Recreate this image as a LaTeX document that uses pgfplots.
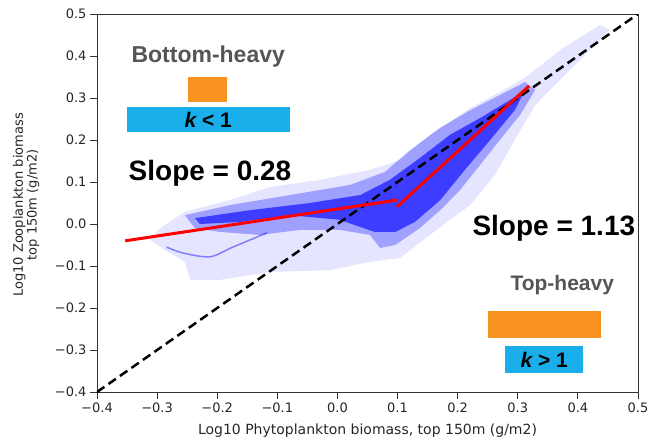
\documentclass[border=0pt]{standalone}
\usepackage{pgfplots}
\pgfplotsset{compat=1.18}
\usepackage{fontspec}
\setmainfont{DejaVu Sans}
\newfontfamily\arial{Liberation Sans}
\definecolor{orng}{HTML}{F7931E}
\definecolor{sky}{HTML}{1AAFEA}
\definecolor{graytxt}{HTML}{555555}
\begin{document}
\begin{tikzpicture}
\begin{axis}[
  scale only axis, width=541pt, height=378pt,
  xmin=-0.4, xmax=0.5, ymin=-0.4, ymax=0.5,
  xtick={-0.4,-0.3,-0.2,-0.1,0,0.1,0.2,0.3,0.4,0.5},
  xticklabels={−0.4,−0.3,−0.2,−0.1,0.0,0.1,0.2,0.3,0.4,0.5},
  ytick={-0.4,-0.3,-0.2,-0.1,0,0.1,0.2,0.3,0.4,0.5},
  yticklabels={−0.4,−0.3,−0.2,−0.1,0.0,0.1,0.2,0.3,0.4,0.5},
  tick align=outside, tick pos=left,
  major tick length=7pt,
  tick style={black!80, line width=0.8pt},
  axis line style={black!80, line width=0.8pt},
  ticklabel style={font=\fontsize{13}{14}\selectfont, text=black!85},
  xlabel={Log10 Phytoplankton biomass, top 150m (g/m2)},
  ylabel={Log10 Zooplankton biomass\\top 150m (g/m2)},
  xlabel style={font=\fontsize{14}{15}\selectfont, text=black!85, at={(axis description cs:0.5,-0.101)}, anchor=center},
  ylabel style={font=\fontsize{13}{12.5}\selectfont, text=black!85, align=center, at={(axis description cs:-0.131,0.495)}, anchor=center},
  clip=true,
]
\coordinate (O) at (rel axis cs:0,0);
% faint outer cloud
\addplot[draw=none, fill=blue, fill opacity=0.10] coordinates {
(-0.312,-0.038) (-0.295,-0.010) (-0.254,0.029) (-0.179,0.057) (-0.112,0.088)
(-0.029,0.105) (0.054,0.129) (0.104,0.152) (0.154,0.212) (0.221,0.276)
(0.270,0.314) (0.312,0.348) (0.370,0.414) (0.437,0.474) (0.453,0.462)
(0.370,0.343) (0.329,0.283) (0.295,0.200) (0.262,0.117) (0.221,0.045)
(0.187,0.010) (0.154,-0.026) (0.104,-0.081) (0.054,-0.090) (-0.012,-0.110)
(-0.112,-0.114) (-0.195,-0.133) (-0.245,-0.133) (-0.254,-0.090) (-0.287,-0.062)
} -- cycle;
% medium band
\addplot[draw=none, fill=blue, fill opacity=0.30] coordinates {
(-0.254,0.021) (-0.179,0.045) (-0.079,0.069) (0.021,0.093) (0.079,0.124)
(0.121,0.176) (0.171,0.229) (0.221,0.271) (0.270,0.307) (0.312,0.338)
(0.329,0.319) (0.304,0.260) (0.270,0.200) (0.237,0.140) (0.204,0.081)
(0.171,0.033) (0.137,-0.010) (0.096,-0.050) (0.071,-0.057) (0.054,-0.026)
(0.004,-0.014) (-0.062,-0.014) (-0.129,-0.026) (-0.195,-0.019) (-0.237,-0.010)
} -- cycle;
% dense core
\addplot[draw=none, fill=blue, fill opacity=0.62] coordinates {
(-0.237,0.014) (-0.145,0.033) (-0.046,0.050) (0.038,0.069) (0.087,0.105)
(0.137,0.157) (0.187,0.212) (0.237,0.252) (0.287,0.295) (0.312,0.319)
(0.295,0.271) (0.254,0.200) (0.212,0.129) (0.171,0.057) (0.129,0.005)
(0.096,-0.019) (0.062,-0.019) (0.004,0.010) (-0.079,0.021) (-0.162,0.005)
(-0.229,0.000)
} -- cycle;
% lower branch loop
\addplot[blue, opacity=0.45, line width=1.5pt, smooth] coordinates {
(-0.284,-0.055) (-0.257,-0.069) (-0.212,-0.078) (-0.174,-0.055) (-0.117,-0.021)
};
% 1:1 line
\addplot[black, line width=2.5pt, dash pattern=on 9pt off 5pt] coordinates {(-0.4,-0.4) (0.5,0.5)};
% fitted segments
\addplot[red, line width=3pt] coordinates {(-0.353,-0.040) (0.099,0.057)};
\addplot[red, line width=3pt] coordinates {(0.099,0.041) (0.319,0.329)};
% annotations
\node[font=\arial\bfseries\fontsize{23}{26}\selectfont, text=graytxt] at (axis cs:-0.215,0.398) {Bottom-heavy};
\fill[orng] (axis cs:-0.249,0.350) rectangle (axis cs:-0.184,0.290);
\fill[sky] (axis cs:-0.350,0.279) rectangle (axis cs:-0.079,0.219);
\node[font=\arial\bfseries\fontsize{21}{24}\selectfont] at (axis cs:-0.215,0.248) {\itshape k\upshape{} < 1};
\node[font=\arial\bfseries\fontsize{28}{32}\selectfont] at (axis cs:-0.212,0.121) {Slope = 0.28};
\node[font=\arial\bfseries\fontsize{28}{32}\selectfont] at (axis cs:0.360,-0.010) {Slope = 1.13};
\node[font=\arial\bfseries\fontsize{21}{24}\selectfont, text=graytxt] at (axis cs:0.374,-0.145) {Top-heavy};
\fill[orng] (axis cs:0.250,-0.207) rectangle (axis cs:0.438,-0.271);
\fill[sky] (axis cs:0.279,-0.290) rectangle (axis cs:0.409,-0.355);
\node[font=\arial\bfseries\fontsize{21}{24}\selectfont] at (axis cs:0.344,-0.324) {\itshape k\upshape{} > 1};
\end{axis}
\pgfresetboundingbox
\path (O) ++(-97pt,-48pt) rectangle ++(650pt,440pt);
\end{tikzpicture}
\end{document}
